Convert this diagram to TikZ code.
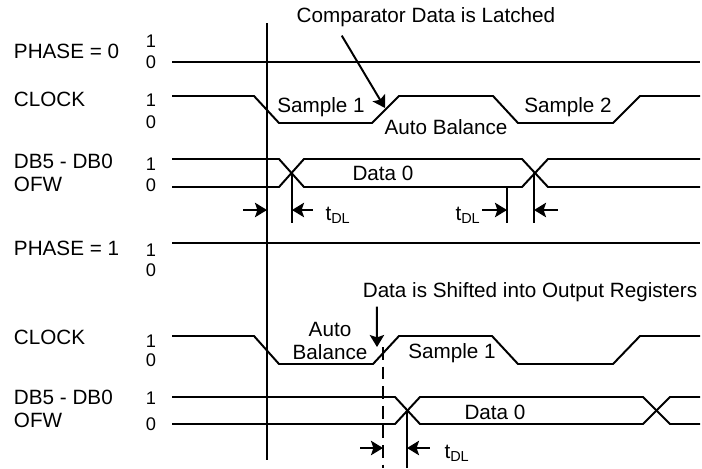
\documentclass[tikz,border=0pt]{standalone}
\usepackage{fontspec}
\setmainfont{Liberation Sans}
\usetikzlibrary{arrows.meta}

\begin{document}
\begin{tikzpicture}[x=0.025cm, y=-0.025cm, line width=1.4pt,
        lbl/.style={inner sep=0pt, font=\fontsize{14.7}{16.5}\selectfont},
        lev/.style={inner sep=0pt, font=\fontsize{13}{14}\selectfont},
        ptr/.style={-{Stealth[length=0.3cm,width=0.36cm,inset=0.06cm]}},
        dimtip/.style={{Stealth[length=0.3cm,width=0.36cm,inset=0.06cm]}-}]
        \useasboundingbox (0,0) rectangle (702,468);
        % row names and logic levels
        \node[lbl,anchor=west] (ph0)  at (13,51)  {PHASE = 0};
        \node[lbl,anchor=west] (clkA) at (13,99)  {CLOCK};
        \node[lbl,anchor=west] (dbA)  at (13,161) {DB5 - DB0};
        \node[lbl,anchor=west] (ofwA) at (13,184) {OFW};
        \node[lbl,anchor=west] (ph1)  at (13,248) {PHASE = 1};
        \node[lbl,anchor=west] (clkB) at (13,337) {CLOCK};
        \node[lbl,anchor=west] (dbB)  at (13,397) {DB5 - DB0};
        \node[lbl,anchor=west] (ofwB) at (13,420) {OFW};
        \foreach \y/\v [count=\i] in {41/1, 62/0, 100/1, 122/0, 164/1, 185/0,
                                      250/1, 270/0, 341/1, 360/0, 398/1, 424/0}
            \node[lev] (lev\i) at (151,\y) {\v};
        % waveforms, phase = 0
        \draw (172,62) -- (700,62);  % phase
        \draw (172,96) -- (254,96) -- (279,123) -- (372,123) -- (399,96) -- (493,96)
              -- (518,123) -- (613,123) -- (640,96) -- (700,96);  % clock
        \draw (172,159) -- (279,159) -- (304,187) -- (522,187) -- (548,159) -- (700,159);
        \draw (172,187) -- (279,187) -- (304,159) -- (522,159) -- (548,187) -- (700,187);
        % waveforms, phase = 1
        \draw (172,243) -- (700,243);  % phase
        \draw (172,336) -- (254,336) -- (279,364) -- (373,364) -- (399,336) -- (492,336)
              -- (518,364) -- (613,364) -- (640,336) -- (700,336);  % clock
        \draw (172,397) -- (395,397) -- (420,424) -- (643,424) -- (670,397) -- (700,397);
        \draw (172,424) -- (395,424) -- (420,397) -- (643,397) -- (670,424) -- (700,424);
        % reference lines
        \draw (267,23) -- (267,460);
        \draw (292,173) -- (292,223);
        \draw (507,187) -- (507,223);
        \draw (534,173) -- (534,223);
        \draw[dash pattern=on 0.32cm off 0.17cm] (383,347) -- (383,468);
        \draw (407,410) -- (407,468);
        % labels in the waveforms
        \node[lbl] (smpA1) at (321,107) {Sample 1};
        \node[lbl] (abalA) at (446,127) {Auto Balance};
        \node[lbl] (smpA2) at (568,107) {Sample 2};
        \node[lbl] (datA)  at (383,173) {Data 0};
        \node[lbl,align=center] (abalB) at (330,341) {Auto\\Balance};
        \node[lbl] (smpB1) at (452,353) {Sample 1};
        \node[lbl] (datB)  at (495,412) {Data 0};
        % latch and shift events
        \node[lbl] (latch) at (426,17) {Comparator Data is Latched};
        \coordinate (latchpt) at (385,108);
        \draw[ptr] ([xshift=1.15cm,yshift=-0.2cm]latch.south west) -- (latchpt);
        \node[lbl] (shift) at (530,292) {Data is Shifted into Output Registers};
        \coordinate (shiftpt) at (377,347);
        \draw[ptr] ([xshift=0.375cm,yshift=-0.1cm]shift.south west) -- (shiftpt);
        % delay marks
        \coordinate (dA1) at (267,210);
        \coordinate (dA2) at (292,210);
        \coordinate (dA3) at (507,210);
        \coordinate (dA4) at (534,210);
        \coordinate (dB1) at (383,448);
        \coordinate (dB2) at (407,448);
        \draw[dimtip] (dA1) -- +(-24,0);
        \draw[dimtip] (dA2) -- +(21,0);
        \draw[dimtip] (dA3) -- +(-25,0);
        \draw[dimtip] (dA4) -- +(24,0);
        \draw[dimtip] (dB1) -- +(-23,0);
        \draw[dimtip] (dB2) -- +(23,0);
        \node[lbl] (tdlA1) at (338,215) {t\textsubscript{DL}};
        \node[lbl] (tdlA2) at (468,215) {t\textsubscript{DL}};
        \node[lbl] (tdlB)  at (457,453) {t\textsubscript{DL}};
    \end{tikzpicture}
\end{document}
